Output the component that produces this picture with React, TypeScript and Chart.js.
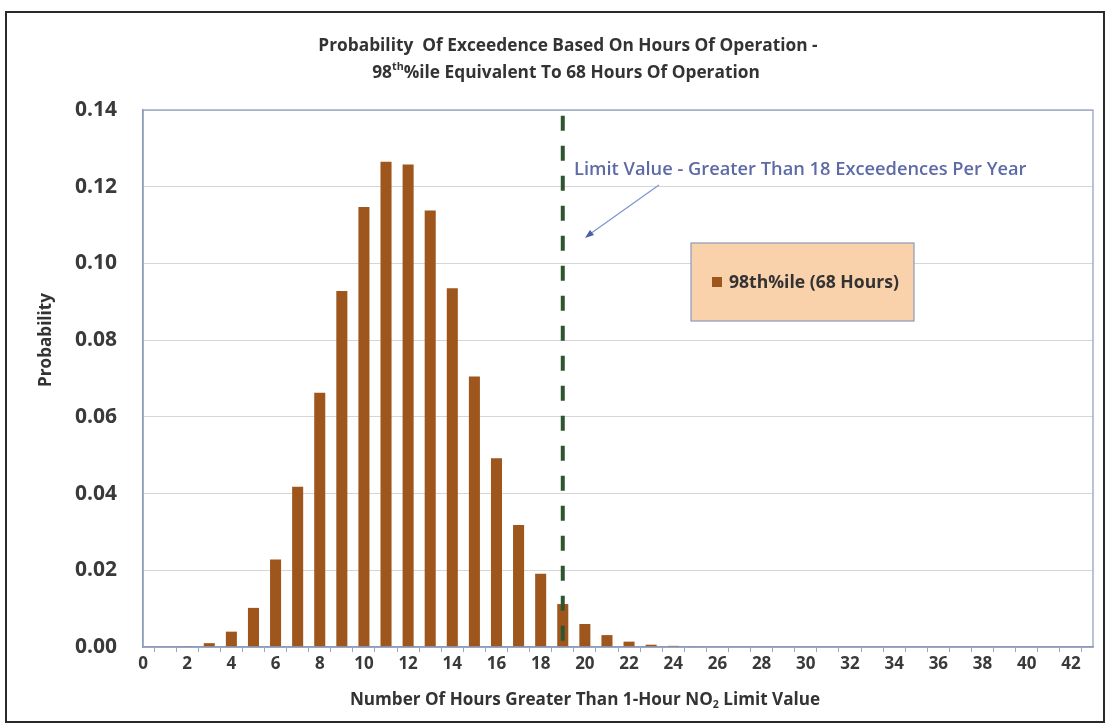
import React, { useEffect, useRef } from "react";
import { Chart, registerables } from "chart.js";

Chart.register(...registerables);

const categories = [
  "0", "1", "2", "3", "4", "5", "6", "7", "8", "9", "10", "11", "12", "13", "14",
  "15", "16", "17", "18", "19", "20", "21", "22", "23", "24", "25", "26", "27", "28",
  "29", "30", "31", "32", "33", "34", "35", "36", "37", "38", "39", "40", "41", "42", "43",
];

const probability = [
  0, 0, 0.0002, 0.001, 0.004, 0.0102, 0.0228, 0.0418, 0.0663, 0.0928, 0.1147, 0.1265,
  0.1258, 0.1138, 0.0935, 0.0705, 0.0492, 0.0318, 0.0191, 0.0112, 0.006, 0.0031, 0.0014,
  0.0006, 0.0003, 0.0001, 0, 0, 0, 0, 0, 0, 0, 0, 0, 0, 0, 0, 0, 0, 0, 0, 0, 0,
];

const seriesLabel = "98th%ile (68 Hours)";
const titleLine1 = "Probability  Of Exceedence Based On Hours Of Operation -";
const titleLine2Parts = ["98", "th", "%ile Equivalent To 68 Hours Of Operation"];
const xTitleParts = ["Number Of Hours Greater Than 1-Hour NO", "2", " Limit Value"];
const yTitle = "Probability";
const limitCategory = 19;
const limitText = "Limit Value - Greater Than 18 Exceedences Per Year";

const FONT = "'Open Sans', Lato, sans-serif";
const BAR_COLOR = "#9e561c";

function fitSize(ctx: CanvasRenderingContext2D, text: string, target: number, weight: string) {
  ctx.font = `${weight} 20px ${FONT}`;
  const w = ctx.measureText(text).width;
  return (20 * target) / w;
}

const decorPlugin = {
  id: "decor",
  beforeDraw(chart: any) {
    const ctx = chart.ctx;
    ctx.save();
    ctx.fillStyle = "#ffffff";
    ctx.fillRect(0, 0, chart.width, chart.height);
    ctx.restore();
  },
  afterDatasetsDraw(chart: any) {
    const ctx = chart.ctx;
    const xs = chart.scales.x;
    const ys = chart.scales.y;
    const x = xs.getPixelForValue(limitCategory);
    ctx.save();
    ctx.strokeStyle = "#2f5530";
    ctx.lineWidth = 4;
    ctx.setLineDash([15, 15]);
    ctx.beginPath();
    ctx.moveTo(x, ys.getPixelForValue(0.1385));
    ctx.lineTo(x, ys.getPixelForValue(0));
    ctx.stroke();
    ctx.restore();
  },
  afterDraw(chart: any) {
    const ctx = chart.ctx;
    const { left, right, top, bottom } = chart.chartArea;
    ctx.save();

    // plot area border
    ctx.strokeStyle = "#8d9cbb";
    ctx.lineWidth = 1.2;
    ctx.strokeRect(left, top, right - left, bottom - top);

    // outer frame
    ctx.strokeStyle = "#2a2a2a";
    ctx.lineWidth = 2;
    ctx.strokeRect(6, 12, 1098, 710);

    ctx.fillStyle = "#333333";
    ctx.textBaseline = "middle";

    // title line 1
    const t1 = fitSize(ctx, titleLine1, 500, "bold");
    ctx.font = `bold ${t1}px ${FONT}`;
    ctx.textAlign = "center";
    ctx.fillText(titleLine1, 568, 46);

    // title line 2 with superscript
    ctx.textAlign = "left";
    const mainFont = `bold ${t1}px ${FONT}`;
    const supFont = `bold ${t1 * 0.62}px ${FONT}`;
    ctx.font = mainFont;
    const w0 = ctx.measureText(titleLine2Parts[0]).width;
    const w2 = ctx.measureText(titleLine2Parts[2]).width;
    ctx.font = supFont;
    const w1 = ctx.measureText(titleLine2Parts[1]).width;
    let tx = 566 - (w0 + w1 + w2) / 2;
    ctx.font = mainFont;
    ctx.fillText(titleLine2Parts[0], tx, 73);
    tx += w0;
    ctx.font = supFont;
    ctx.fillText(titleLine2Parts[1], tx, 67);
    tx += w1;
    ctx.font = mainFont;
    ctx.fillText(titleLine2Parts[2], tx, 73);

    // x axis title with subscript
    const xt = fitSize(ctx, xTitleParts[0] + xTitleParts[1] + xTitleParts[2], 474, "bold");
    const xMain = `bold ${xt}px ${FONT}`;
    const xSub = `bold ${xt * 0.62}px ${FONT}`;
    ctx.font = xMain;
    const a = ctx.measureText(xTitleParts[0]).width;
    const c = ctx.measureText(xTitleParts[2]).width;
    ctx.font = xSub;
    const b = ctx.measureText(xTitleParts[1]).width;
    let xx = 585 - (a + b + c) / 2;
    ctx.font = xMain;
    ctx.fillText(xTitleParts[0], xx, 700);
    xx += a;
    ctx.font = xSub;
    ctx.fillText(xTitleParts[1], xx, 705);
    xx += b;
    ctx.font = xMain;
    ctx.fillText(xTitleParts[2], xx, 700);

    // y axis title
    ctx.save();
    ctx.translate(46, 340);
    ctx.rotate(-Math.PI / 2);
    ctx.textAlign = "center";
    const yt = fitSize(ctx, yTitle, 94, "bold");
    ctx.font = `bold ${yt}px ${FONT}`;
    ctx.fillText(yTitle, 0, 0);
    ctx.restore();

    // annotation
    ctx.fillStyle = "#5e6aa6";
    const at = fitSize(ctx, limitText, 453, "600");
    ctx.font = `600 ${at}px ${FONT}`;
    ctx.textAlign = "left";
    ctx.fillText(limitText, 574, 170);
    ctx.strokeStyle = "#7a95cf";
    ctx.lineWidth = 1.2;
    ctx.beginPath();
    ctx.moveTo(659, 185);
    ctx.lineTo(590, 234);
    ctx.stroke();
    ctx.fillStyle = "#4a5fa8";
    ctx.beginPath();
    ctx.moveTo(585, 238);
    ctx.lineTo(594, 235);
    ctx.lineTo(590, 230);
    ctx.closePath();
    ctx.fill();

    // legend box
    ctx.fillStyle = "#f9d1aa";
    ctx.fillRect(691, 243, 223, 78);
    ctx.strokeStyle = "#8b9ab8";
    ctx.lineWidth = 1.2;
    ctx.strokeRect(691, 243, 223, 78);
    ctx.fillStyle = BAR_COLOR;
    ctx.fillRect(712, 277, 10, 10);
    ctx.fillStyle = "#333333";
    const lt = fitSize(ctx, seriesLabel, 170, "bold");
    ctx.font = `bold ${lt}px ${FONT}`;
    ctx.textBaseline = "middle";
    ctx.fillText(seriesLabel, 729, 283);

    ctx.restore();
  },
};

export default function App() {
  const canvasRef = useRef<HTMLCanvasElement | null>(null);

  useEffect(() => {
    if (!canvasRef.current) return;
    const chart = new Chart(canvasRef.current, {
      type: "bar",
      data: {
        labels: categories,
        datasets: [
          {
            label: seriesLabel,
            data: probability,
            backgroundColor: BAR_COLOR,
            barPercentage: 0.5,
            categoryPercentage: 1,
          },
        ],
      },
      options: {
        responsive: false,
        animation: false,
        layout: { padding: { top: 110, right: 18, bottom: 0, left: 0 } },
        plugins: {
          legend: { display: false },
          title: { display: false },
          tooltip: { enabled: false },
        },
        scales: {
          x: {
            type: "category",
            offset: false,
            afterFit: (scale: any) => {
              scale.height = 80;
            },
            grid: {
              display: true,
              drawOnChartArea: false,
              drawTicks: true,
              tickLength: 5,
              color: "#9aa6bf",
            },
            border: { color: "#8d9cbb", width: 1.5 },
            ticks: {
              autoSkip: false,
              maxRotation: 0,
              minRotation: 0,
              padding: 2,
              color: "#3a3a3a",
              font: { family: FONT, size: 17, weight: "bold" },
              callback: (_v: any, i: number) => (i % 2 === 0 ? categories[i] : ""),
            },
          },
          y: {
            min: 0,
            max: 0.14,
            afterFit: (scale: any) => {
              scale.width = 143;
            },
            grid: {
              color: "#d6d6d6",
              lineWidth: 1,
              drawTicks: false,
            },
            border: { color: "#8d9cbb", width: 1.5 },
            ticks: {
              stepSize: 0.02,
              padding: 26,
              color: "#3a3a3a",
              font: { family: FONT, size: 21, weight: "bold" },
              callback: (v: any) => Number(v).toFixed(2),
            },
          },
        },
      },
      plugins: [decorPlugin],
    });
    return () => chart.destroy();
  }, []);

  return (
    <div style={{ position: "absolute", left: 0, top: 0, width: 1111, height: 727 }}>
      <canvas ref={canvasRef} width={1111} height={727} />
    </div>
  );
}
